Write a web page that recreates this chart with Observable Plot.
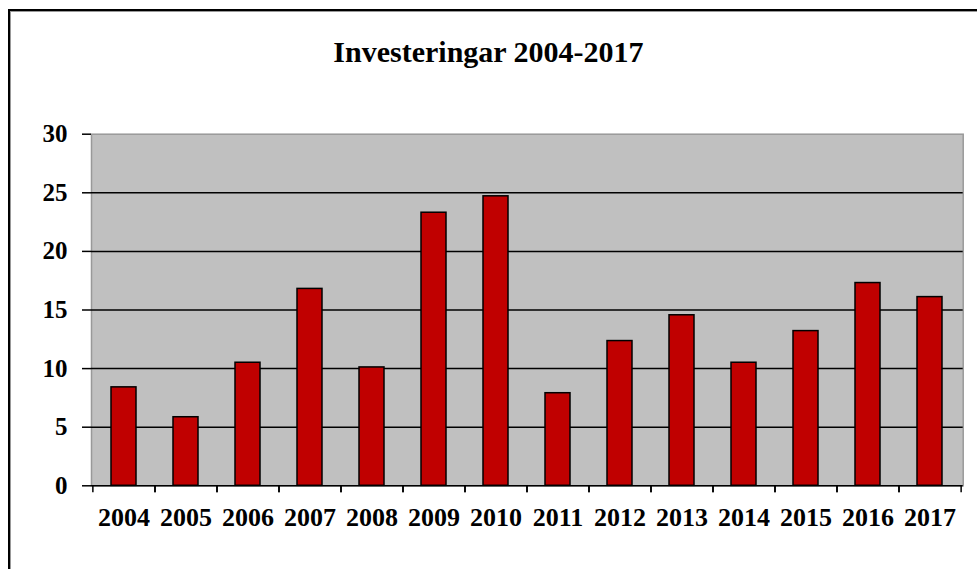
<!DOCTYPE html>
<html>
<head>
<meta charset="utf-8">
<script src="https://cdn.jsdelivr.net/npm/d3@7"></script>
<script src="https://cdn.jsdelivr.net/npm/@observablehq/plot@0.6"></script>
<style>
  html, body { margin: 0; padding: 0; background: #fff; }
  #wrap { position: relative; width: 977px; height: 569px; overflow: hidden; }
  #border { position: absolute; left: 8px; top: 9px; width: 1000px; height: 600px;
            border-left: 2px solid #000; border-top: 2px solid #000;
            box-shadow: inset 1px 1px 0 #999; }
  #title { position: absolute; left: 0; top: 37px; width: 977px; text-align: center;
           font: bold 30px/30px "Liberation Serif", "Times New Roman", serif; color: #000; margin: 0; }
  #chart { position: absolute; left: 0; top: 0; }
</style>
</head>
<body>
<div id="wrap">
  <div id="border"></div>
  <div id="chart"></div>
  <div id="title">Investeringar 2004-2017</div>
</div>
<script>
const years = ["2004","2005","2006","2007","2008","2009","2010","2011","2012","2013","2014","2015","2016","2017"];
const values = [8.4, 5.85, 10.5, 16.8, 10.1, 23.3, 24.7, 7.9, 12.35, 14.55, 10.5, 13.2, 17.3, 16.1];
const yTicks = [0, 5, 10, 15, 20, 25, 30];
const gridTicks = [5, 10, 15, 20, 25];

const data = years.map((year, i) => ({year, value: values[i]}));

const W = 977, H = 569;
const mL = 91, mR = 14.3, mT = 133.7, mB = 83.7;
const step = (W - mL - mR) / years.length;

const chart = Plot.plot({
  width: W,
  height: H,
  marginLeft: mL,
  marginRight: mR,
  marginTop: mT,
  marginBottom: mB,
  style: {fontFamily: "'Liberation Serif', 'Times New Roman', serif", fontWeight: "bold", background: "transparent", overflow: "visible", color: "#000"},
  x: {domain: years, paddingInner: 0.6, paddingOuter: 0.3, axis: null},
  y: {domain: [0, 30], axis: null},
  marks: [
    Plot.frame({fill: "#C0C0C0", stroke: "#999", strokeWidth: 1.5}),
    Plot.ruleY(gridTicks, {stroke: "#000", strokeWidth: 1.5}),
    Plot.barY(data, {x: "year", y: "value", fill: "#C00000", stroke: "#000", strokeWidth: 1.5}),
    Plot.ruleY([0], {stroke: "#000", strokeWidth: 1.5}),
    Plot.axisX({tickSize: 0, tickPadding: 22, fontSize: 26, fill: "#000", label: null}),
    Plot.axisX({text: null, tickSize: 7, dx: -step / 2, stroke: "#000", strokeWidth: 1.5, label: null}),
    Plot.axisX({text: null, tickSize: 7, dx: step / 2, stroke: "#000", strokeWidth: 1.5, label: null}),
    Plot.axisY({ticks: yTicks, tickSize: 9, tickPadding: 15, fontSize: 25, fill: "#000", stroke: "#000", strokeWidth: 1.5, line: true, label: null})
  ]
});
document.getElementById("chart").appendChild(chart);
</script>
</body>
</html>
